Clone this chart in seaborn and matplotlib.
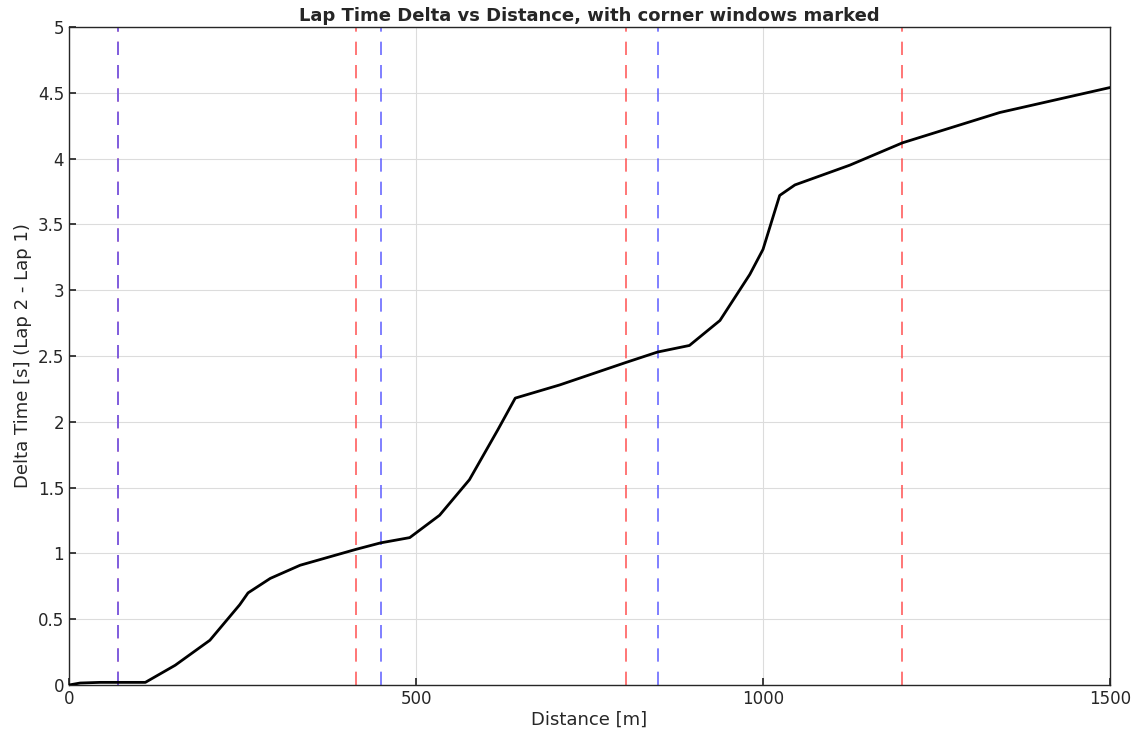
import numpy as np
import pandas as pd
import matplotlib.pyplot as plt
import seaborn as sns

# curve
distance = [0, 16, 45, 70, 110, 153, 203, 246, 258, 290, 333, 413, 449, 491, 534, 577,
            618, 643, 707, 802, 848, 894, 938, 981, 1000, 1024, 1046, 1125, 1201, 1341, 1500]
delta = [0.0, 0.015, 0.02, 0.02, 0.02, 0.15, 0.34, 0.61, 0.70, 0.81, 0.91, 1.03, 1.08, 1.12,
         1.29, 1.56, 1.94, 2.18, 2.28, 2.45, 2.53, 2.58, 2.77, 3.12, 3.31, 3.72, 3.80, 3.95,
         4.12, 4.35, 4.54]
red_marks = [70, 413, 802, 1201]
blue_marks = [70, 449, 848]

sns.set_theme(style="white")
plt.rcParams['font.family'] = ['DejaVu Sans']

fig = plt.figure(figsize=(11.35, 7.46), dpi=100)
ax = fig.add_axes([69 / 1135, 1 - 685 / 746, 1041 / 1135, 658 / 746])

df = pd.DataFrame({'Distance': distance, 'Delta': delta})
sns.lineplot(data=df, x='Distance', y='Delta', color='black', linewidth=2, ax=ax, zorder=3)

for x in red_marks:
    ax.axvline(x, color=(1, 0.3, 0.3), linestyle=(0, (8, 6)), linewidth=1.2, alpha=0.9, zorder=2)
for x in blue_marks:
    ax.axvline(x, color=(0.35, 0.35, 1), linestyle=(0, (8, 6)), linewidth=1.2, alpha=0.9, zorder=2)

ax.set_xlim(0, 1500)
ax.set_ylim(0, 5)
ax.set_xticks([0, 500, 1000, 1500])
ax.set_yticks(np.arange(0, 5.01, 0.5))
ax.set_yticklabels(['0', '0.5', '1', '1.5', '2', '2.5', '3', '3.5', '4', '4.5', '5'])
ax.grid(True, color='#dcdcdc', linewidth=0.8)
ax.set_axisbelow(True)
ax.tick_params(direction='in', length=5, labelsize=12, colors='#262626', left=True, bottom=True)
for s in ax.spines.values():
    s.set_color('#262626')
    s.set_linewidth(1)

ax.set_xlabel('Distance [m]', fontsize=13, color='#262626', labelpad=2)
ax.set_ylabel('Delta Time [s] (Lap 2 - Lap 1)', fontsize=13, color='#262626')
ax.set_title('Lap Time Delta vs Distance, with corner windows marked', fontsize=13,
             weight='bold', color='#262626', pad=4)

fig.savefig('out.png', dpi=100)
